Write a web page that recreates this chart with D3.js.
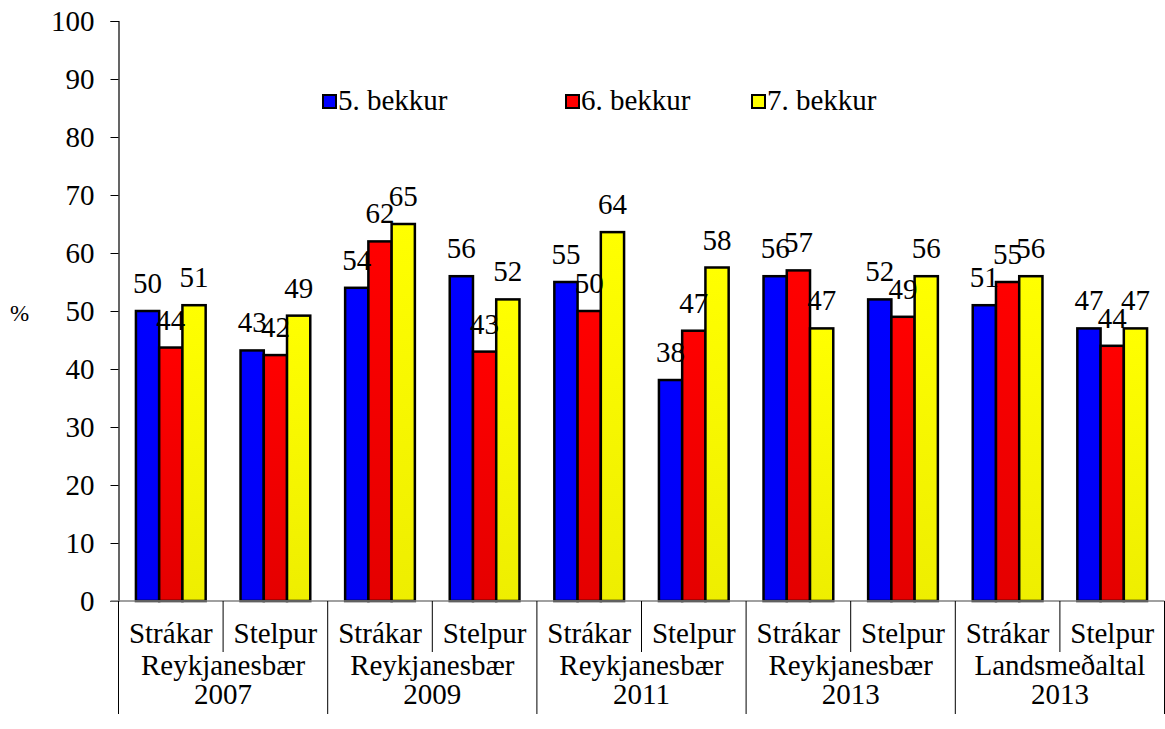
<!DOCTYPE html>
<html>
<head>
<meta charset="utf-8">
<title>Bekkir eftir kyni</title>
<style>
html, body {
  margin: 0;
  padding: 0;
  background: #fff;
}
svg text {
  font-family: "Liberation Serif", "Times New Roman", serif;
  fill: #000;
}
.bar {
  stroke: #000;
  stroke-width: 2.5px;
}
</style>
<script src="https://d3js.org/d3.v7.min.js"></script>
</head>
<body>
<svg width="1165" height="729"></svg>
<script>

// categories and values
var groups = ["Reykjanesbær\n2007", "Reykjanesbær\n2009", "Reykjanesbær\n2011", "Reykjanesbær\n2013", "Landsmeðaltal\n2013"];
var genders = ["Strákar", "Stelpur"];
var series = ["5. bekkur", "6. bekkur", "7. bekkur"];

var bekkur5 = [50, 43.2, 54, 56, 55, 38.1, 56, 52, 51, 47];
var bekkur6 = [43.7, 42.4, 62, 43, 50, 46.6, 57, 49, 55, 44];
var bekkur7 = [51, 49.2, 65, 52, 63.6, 57.5, 47, 56, 56, 47];

var yTicks = [0, 10, 20, 30, 40, 50, 60, 70, 80, 90, 100];

var colors = ["#0000ff", "#ff0000", "#ffff00"];
var colorsDark = ["#0000f4", "#e40000", "#eeee00"];

var svg = d3.select("svg");

var fs = "29px";
var plotLeft = 118.5, plotRight = 1164.5, plotTop = 21, plotBottom = 601;

// one slot per group+gender
var cats = [];
groups.forEach(function(g, gi) {
  genders.forEach(function(s) { cats.push(gi + "|" + s); });
});

var x = d3.scaleBand().domain(cats).range([plotLeft, plotRight]).paddingInner(0).paddingOuter(0);
var xs = d3.scaleBand().domain(series).range([0, x.bandwidth()]).paddingInner(0).paddingOuter(0.75);
var y = d3.scaleLinear().domain([0, 100]).range([plotBottom, plotTop]);

var rows = cats.map(function(c, i) {
  return {cat: c, vals: [bekkur5[i], bekkur6[i], bekkur7[i]]};
});

// gradients
var defs = svg.append("defs");
colors.forEach(function(c, i) {
  var g = defs.append("linearGradient").attr("id", "g" + i)
      .attr("x1", 0).attr("y1", 0).attr("x2", 0).attr("y2", 1);
  g.append("stop").attr("offset", "0%").attr("stop-color", c);
  g.append("stop").attr("offset", "100%").attr("stop-color", colorsDark[i]);
});

// y axis
var yAxis = svg.append("g")
    .attr("transform", "translate(" + plotLeft + ",0)")
    .call(d3.axisLeft(y).tickValues(yTicks).tickSize(8).tickPadding(16));
yAxis.attr("font-family", null).attr("font-size", null);
yAxis.select(".domain").attr("stroke", "#000").attr("stroke-width", 1.2);
yAxis.selectAll(".tick line").attr("stroke", "#000");
yAxis.selectAll("text")
    .style("font-size", fs)
    .attr("fill", "#000");

svg.append("text")
    .attr("x", 10)
    .attr("y", 321)
    .style("font-size", "23px")
    .text("%");

// bars
var cat = svg.selectAll(".cat")
  .data(rows)
  .enter().append("g")
    .attr("class", "cat")
    .attr("transform", function(d) { return "translate(" + x(d.cat) + ",0)"; });

cat.selectAll("rect")
  .data(function(d) { return d.vals.map(function(v, i) { return {s: series[i], i: i, v: v}; }); })
  .enter().append("rect")
    .attr("class", "bar")
    .attr("x", function(d) { return xs(d.s); })
    .attr("width", xs.bandwidth())
    .attr("y", function(d) { return y(d.v); })
    .attr("height", function(d) { return plotBottom - y(d.v); })
    .attr("fill", function(d) { return "url(#g" + d.i + ")"; });

cat.selectAll(".lbl")
  .data(function(d) { return d.vals.map(function(v, i) { return {s: series[i], v: v}; }); })
  .enter().append("text")
    .attr("class", "lbl")
    .attr("x", function(d) { return xs(d.s) + xs.bandwidth() / 2; })
    .attr("y", function(d) { return y(d.v) - 18; })
    .attr("text-anchor", "middle")
    .style("font-size", fs)
    .text(function(d) { return Math.round(d.v); });

// x axis line
svg.append("line")
    .attr("x1", plotLeft - 8).attr("x2", plotRight)
    .attr("y1", plotBottom).attr("y2", plotBottom)
    .attr("stroke", "#808080").attr("stroke-width", 1.5);

// separators between slots
d3.range(cats.length + 1).forEach(function(i) {
  var xx = i < cats.length ? x(cats[i]) : plotRight;
  svg.append("line")
      .attr("x1", xx).attr("x2", xx)
      .attr("y1", plotBottom)
      .attr("y2", i % 2 === 0 ? 714 : 652)
      .attr("stroke", "#000").attr("stroke-width", 1);
});

// gender labels
svg.selectAll(".gender")
  .data(cats)
  .enter().append("text")
    .attr("class", "gender")
    .attr("x", function(d) { return x(d) + x.bandwidth() / 2; })
    .attr("y", 643)
    .attr("text-anchor", "middle")
    .style("font-size", fs)
    .text(function(d) { return d.split("|")[1]; });

// group labels
groups.forEach(function(g, gi) {
  var cx = x(gi + "|" + genders[0]) + x.bandwidth();
  var t = svg.append("text")
      .attr("text-anchor", "middle")
      .style("font-size", fs);
  g.split("\n").forEach(function(line, li) {
    t.append("tspan").attr("x", cx).attr("y", 675 + li * 29).text(line);
  });
});

// legend
var legendX = [323, 566, 752];
var legend = svg.selectAll(".legend")
  .data(series)
  .enter().append("g")
    .attr("class", "legend")
    .attr("transform", function(d, i) { return "translate(" + legendX[i] + ",95)"; });

legend.append("rect")
    .attr("width", 13).attr("height", 13)
    .attr("fill", function(d, i) { return colors[i]; })
    .attr("stroke", "#000").attr("stroke-width", 2);

legend.append("text")
    .attr("x", 15)
    .attr("y", 15)
    .style("font-size", fs)
    .text(function(d) { return d; });

</script>
</body>
</html>
